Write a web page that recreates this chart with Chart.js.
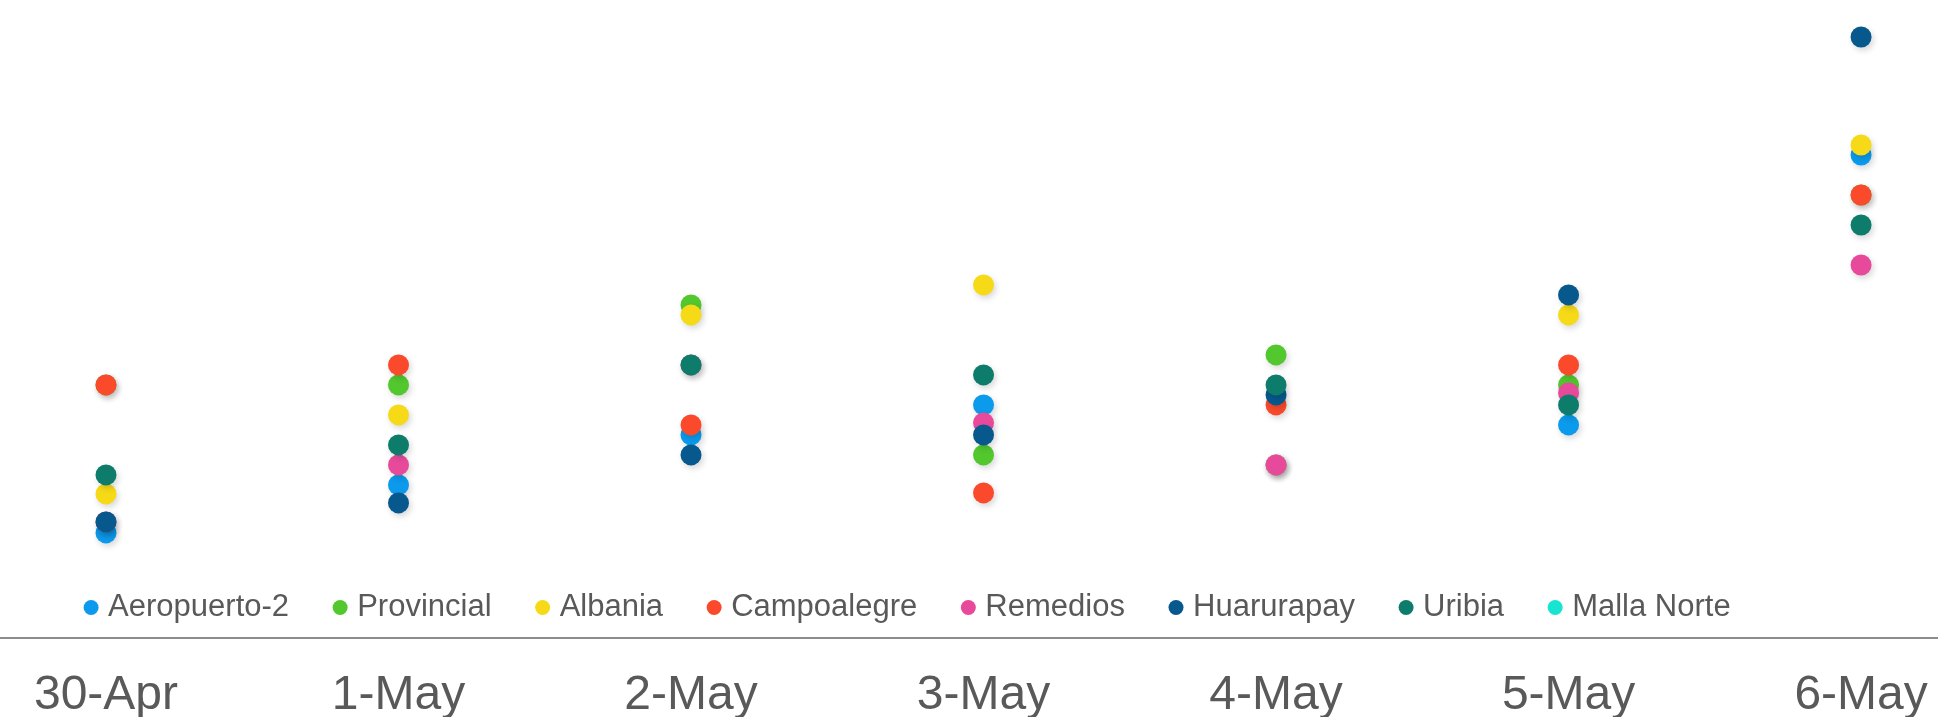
<!DOCTYPE html>
<html>
<head>
<meta charset="utf-8">
<script src="https://cdn.jsdelivr.net/npm/chart.js@4.4.1/dist/chart.umd.min.js"></script>
<style>
  html, body { margin: 0; padding: 0; background: #fff; }
  #wrap { width: 1938px; height: 717px; position: relative; }
</style>
</head>
<body>
<div id="wrap"><canvas id="myChart"></canvas></div>
<script>
// categories and series (null = no point that day)
const days = ["30-Apr", "1-May", "2-May", "3-May", "4-May", "5-May", "6-May"];

const aeropuerto2 = [1.7, 6.5, 11.5, 14.5, 8.5, 12.5, 39.5];
const provincial = [16.5, 16.5, 24.5, 9.5, 19.5, 16.5, 35.5];
const albania = [5.6, 13.5, 23.5, 26.5, 8.5, 23.5, 40.5];
const campoalegre = [16.5, 18.5, 12.5, 5.7, 14.5, 18.5, 35.5];
const remedios = [2.8, 8.5, 18.5, 12.7, 8.5, 15.7, 28.5];
const huarurapay = [2.8, 4.7, 9.5, 11.5, 15.5, 25.5, 51.3];
const uribia = [7.5, 10.5, 18.5, 17.5, 16.5, 14.5, 32.5];
const mallaNorte = [null, null, null, null, null, null, null];

const seriesNames = ["Aeropuerto-2", "Provincial", "Albania", "Campoalegre", "Remedios", "Huarurapay", "Uribia", "Malla Norte"];
const seriesValues = [aeropuerto2, provincial, albania, campoalegre, remedios, huarurapay, uribia, mallaNorte];
const seriesColors = ["#0b9aec", "#52c72e", "#f6da17", "#fb4a2b", "#e84a9b", "#06588d", "#0e7c6b", "#17e4d1"];

const toPoints = (values) =>
  values.map((v, i) => ({ x: i, y: v })).filter((p) => p.y !== null);

const datasets = seriesNames.map((name, i) => ({
  label: name,
  data: toPoints(seriesValues[i]),
  backgroundColor: seriesColors[i],
  borderColor: seriesColors[i],
  borderWidth: 0,
  pointRadius: 10.5,
  pointHoverRadius: 10.5,
  order: seriesNames.length - i, // later series drawn on top
  clip: false,
}));

// soft drop shadow under the dots
const dotShadow = {
  id: "dotShadow",
  beforeDatasetsDraw(chart) {
    const c = chart.ctx;
    c.save();
    c.shadowColor = "rgba(0,0,0,0.16)";
    c.shadowBlur = 6;
    c.shadowOffsetX = 2;
    c.shadowOffsetY = 3;
  },
  afterDatasetsDraw(chart) {
    chart.ctx.restore();
  },
};

// legend sits a bit right of the edge and slightly higher
const legendNudge = {
  id: "legendNudge",
  afterLayout(chart) {
    chart.legend.left += 40;
    chart.legend.top -= 5;
  },
};

Chart.defaults.font.family = "'Liberation Sans', Arial, sans-serif";
Chart.defaults.color = "#595959";

const ctx = document.getElementById("myChart").getContext("2d");

const myChart = new Chart(ctx, {
  type: "scatter",
  data: { datasets: datasets },
  plugins: [dotShadow, legendNudge],
  options: {
    responsive: true,
    maintainAspectRatio: false,
    animation: false,
    layout: { padding: 0, autoPadding: false },
    plugins: {
      legend: {
        position: "bottom",
        align: "start",
        weight: 1000,
        labels: {
          usePointStyle: true,
          pointStyle: "circle",
          boxWidth: 3,
          boxHeight: 10.6,
          padding: 49.6,
          color: "#595959",
          font: { size: 31 },
          sort: (a, b) => a.datasetIndex - b.datasetIndex,
        },
      },
      tooltip: { enabled: false },
    },
    scales: {
      x: {
        type: "linear",
        position: "bottom",
        weight: 2000,
        min: -0.3624,
        max: 6.263,
        afterBuildTicks: (scale) => {
          scale.ticks = days.map((d, i) => ({ value: i }));
        },
        grid: { display: false, drawTicks: true, tickLength: 36 },
        border: { display: true, color: "#8c8c8c", width: 2 },
        ticks: {
          autoSkip: false,
          maxRotation: 0,
          padding: 0,
          color: "#595959",
          font: { size: 48, lineHeight: 43 / 48 },
          callback: (value) => days[value],
        },
      },
      y: {
        display: false,
        min: 0.25,
        max: 55,
      },
    },
  },
});
</script>
</body>
</html>
